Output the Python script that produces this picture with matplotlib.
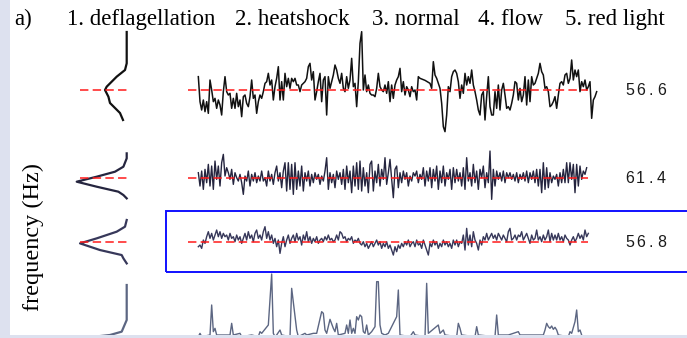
import numpy as np
import matplotlib.pyplot as plt
from matplotlib.patches import Rectangle

# frequency deviation from the row mean, one value per sample
row1 = [40, -35, -60, -30, -65, -35, -70, 30, 0, -35,
        -25, -55, -30, -45, -75, -5, 40, -5, -15, -10,
        -55, -25, -55, -10, -50, -30, -80, -20, -15, -40,
        -50, -20, 30, -25, -15, -70, -35, -15, -25, -5,
        20, 25, 50, 15, 30, -30, 10, 35, 70, -30,
        25, -30, 50, 10, 35, 5, 35, 25, 35, 15,
        15, -5, 15, 20, 25, 35, 70, 80, 30, 55,
        -30, -5, 25, 50, -35, 30, 40, -75, 40, 5,
        25, 45, 75, 60, 35, 20, 50, 5, -5, 40,
        5, 30, 95, 10, 20, -50, 25, 140, 175, 0,
        45, -5, 15, -10, -15, -15, -20, 5, 50, 10,
        0, -5, 15, -10, 25, -35, 15, -25, 15, 30,
        40, 65, -5, 25, -15, 10, 0, -20, 10, -5,
        0, -30, 40, 35, 33, 31, 29, 26, 23, 20,
        5, 85, 45, 35, 20, 5, -40, -110, -125, -75,
        10, -5, 40, 55, 60, 50, 25, -25, 15, -10,
        50, 15, 40, 20, 60, 15, -5, -30, -60, -75,
        -15, -5, -90, -20, 40, -50, -75, -75, -5, -55,
        15, -60, 0, 20, -15, -55, -50, -60, -40, -15,
        25, 20, -30, 5, -35, -15, 40, -45, 30, -35,
        40, 15, 20, 35, 50, 80, 55, 45, 5, 10,
        -5, -50, -45, -35, -20, -55, -15, 20, 25, 15,
        45, 50, 20, 35, 90, 30, 60, 40, 60, -5,
        25, 10, 30, 0, 10, 25, -85, -30, -20, -5]

row2 = [15, -25, 20, -35, 25, -15, 40, -25, 35, -35,
        50, -5, 35, -25, 45, 70, 5, 30, 15, -5,
        25, -20, 15, 0, -10, 10, -15, -50, 5, -10,
        20, -25, 10, -10, 15, -15, 5, -10, 20, -10,
        0, -25, 20, -10, 10, -20, 15, 35, -10, 15,
        -30, 20, 45, -40, 45, -35, 40, -50, 45, -35,
        20, -25, 35, -40, 15, -10, 20, -25, 10, -15,
        15, -5, 10, -20, 5, -10, 20, 60, -35, 15,
        -15, 10, -30, 20, -5, 15, -20, 25, -35, 35,
        -15, 20, -45, 35, -25, 45, -35, 50, -40, 30,
        -25, 15, -45, 40, 50, -40, 20, -15, 40, -25,
        25, -5, 60, -20, 15, 55, -5, -60, 25, 35,
        -30, 15, -15, 20, -5, 15, -25, 5, -10, 15,
        5, 20, -15, 10, -5, 30, -25, 20, -10, 30,
        -30, 25, -10, 35, -35, 20, -15, 35, -25, 15,
        -5, 25, -35, 30, -15, 25, -10, 15, -25, 30,
        -35, 60, -10, 15, -25, 40, -15, 20, -35, 25,
        0, 35, -30, 15, -15, 80, -65, 25, -25, 20,
        -5, 15, -10, 20, -15, 15, 0, 15, -5, 10,
        -10, 15, -15, 10, -5, 15, -10, 20, -15, 15,
        -5, 20, -15, 25, -25, 25, -45, 45, -35, 30,
        -30, 15, -15, 5, -5, 10, -25, 15, -15, 25,
        -15, 45, -15, 45, -5, 40, -45, 40, -25, 35,
        -5, 20, 10, 30]

row3 = [-15, -10, -20, 5, -5, 15, 30, 10, 25, 5,
        20, 35, 15, 30, 10, 25, 15, 20, 5, 25,
        10, 15, 0, 20, 5, 15, -5, 10, 25, 5,
        30, 10, 20, 0, 25, 35, 10, 20, 5, 30,
        45, 10, 30, 5, 20, -5, 10, -15, 5, -35,
        -5, 15, -15, 5, 20, -5, 10, 20, 0, 25,
        5, 15, -10, 20, 5, 30, 0, 15, -5, 10,
        0, 15, -5, 5, 10, 0, 15, 5, 20, 5,
        10, 0, 5, 20, 5, 30, 25, 10, 15, 0,
        10, 5, 15, -5, 5, 0, 10, -5, -10, 0,
        -15, -5, -20, -10, 0, -15, -5, 5, -10, 0,
        -20, -5, -15, 0, -20, -10, -25, -40, -15, -30,
        -10, -20, -5, -15, 0, -10, 5, -15, -5, 0,
        -15, 5, -10, -5, -20, 5, -10, -25, -40, -5,
        -15, 5, -10, 0, -20, -5, -15, 5, -10, 0,
        -15, -5, -20, 5, -10, 5, -15, 0, -5, 20,
        -25, 40, -10, 20, -15, 30, 5, -5, -25, 5,
        -10, 15, 5, 25, 5, 15, 25, 10, 20, 5,
        25, 15, 5, 20, 10, 0, 30, 40, 5, 10,
        20, 5, 20, 15, 30, 5, 15, 25, 10, -5,
        20, 5, 10, 35, 5, 15, 0, 20, 5, 15,
        35, 0, 25, 5, 20, 5, 25, 5, 15, 0,
        20, 10, 5, -10, 5, 15, 0, 10, 25, 10,
        20, 5, 35, 15, 25]

# row 4 is a spiky trace: sample index and value above its baseline
row4_t = [0, 1, 2, 7, 8, 9, 10, 11, 12, 19, 20, 21, 25, 26, 32, 36, 37, 38, 42, 44,
          45, 46, 47, 49, 50, 55, 56, 59, 60, 64, 65, 69, 71, 74, 75, 76, 77, 79, 81, 82,
          83, 84, 88, 89, 90, 91, 92, 93, 94, 95, 96, 97, 98, 99, 100, 101, 102, 104, 106, 107,
          108, 109, 110, 112, 114, 117, 119, 120, 121, 127, 129, 130, 136, 137, 138, 144, 145, 147, 148, 155,
          156, 157, 158, 166, 167, 168, 178, 179, 180, 183, 186, 192, 193, 201, 207, 208, 209, 210, 211, 212,
          213, 214, 215, 216, 222, 223, 224, 226, 227, 228, 229, 230]
row4_v = [0, 10, 0, 5, 95, 15, 25, 5, 5, 5, 40, 5, 10, 0, 5, 0, 15, 10, 35, 188,
          10, 0, 5, 20, 5, 0, 145, 20, 0, 10, 5, 10, 10, 75, 70, 20, 10, 52, 25, 15,
          40, 5, 10, 35, 10, 50, 10, 25, 10, 60, 50, 65, 60, 15, 10, 35, 5, 15, 30, 165,
          165, 35, 10, 5, 10, 40, 60, 140, 5, 0, 15, 5, 0, 160, 10, 35, 10, 20, 5, 0,
          40, 25, 5, 0, 30, 5, 0, 65, 5, 5, 5, 15, 5, 5, 5, 20, 40, 30, 25, 32,
          22, 28, 20, 5, 0, 15, 10, 45, 80, 15, 20, 5]

# marginal distributions (level, count)
hist1_lv = [174, 80, 60, 40, 10, 0, -20, -39, -54, -69, -90]
hist1_ct = [0, 0, 1.7, 10, 20, 21.7, 18.3, 16.7, 11.7, 6.7, 3.7]
hist2_lv = [73, 58, 33, 18, 3, -12, -27, -42, -52, -62]
hist2_ct = [0, 0, 3.3, 11.7, 30, 50, 30, 8.3, 3.3, 0]
hist3_lv = [65, 45, 30, 10, -5, -25, -40, -50, -65]
hist3_ct = [0, 1.7, 10, 30, 46.7, 26.7, 5, 3.3, 0]
hist4_lv = [155, 50, 15, 5, 0]
hist4_ct = [0, 0, 5, 16.7, 32]

conditions = ['1. deflagellation', '2. heatshock', '3. normal', '4. flow', '5. red light']
means = ['56.6', '61.4', '56.8']

W, H = 687, 338
fig = plt.figure(figsize=(W / 100, H / 100), dpi=100)
fig.patch.set_facecolor('#dde1ef')
fig.add_artist(Rectangle((10 / W, 3 / H), 1, 1, transform=fig.transFigure,
                         facecolor='white', edgecolor='none', zorder=0))


def box(x0, y0, x1, y1):
    return [x0 / W, 1 - y1 / H, (x1 - x0) / W, (y1 - y0) / H]


# (series, times, hist levels, hist counts, colour, top px, bottom px, ylim, mean line)
rows = [
    (row1, None, hist1_lv, hist1_ct, '#111111', 25, 155, (-195, 195), True),
    (row2, None, hist2_lv, hist2_ct, '#25253f', 140.2, 215.2, (-112.5, 112.5), True),
    (row3, None, hist3_lv, hist3_ct, '#37385a', 215, 268.4, (-80, 80), True),
    (row4_v, row4_t, hist4_lv, hist4_ct, '#5c6682', 270, 335, (5, 200), False),
]

for k, (vals, t, lv, ct, col, top, bot, ylim, mline) in enumerate(rows):
    if t is None:
        t = np.arange(len(vals))
    ax = fig.add_axes(box(188, top, 600, bot))
    ax.set_axis_off()
    ax.plot(t, vals, color=col, lw=1.0 if k else 1.1)
    if mline:
        ax.hlines(0, -6.2, 233.8, colors='#ff1a1a', linestyles=(0, (5.5, 2.8)), lw=1.1, zorder=3)
    ax.set_xlim(-6.2, 241)
    ax.set_ylim(*ylim)

    hx = fig.add_axes(box(60, top, 130, bot))
    hx.set_axis_off()
    hx.plot(ct, lv, color=col, lw=1.6)
    if mline:
        hx.hlines(0, 46.7, -0.3, colors='#ff1a1a', linestyles=(0, (5.5, 2.8)), lw=1.1, zorder=3)
    hx.set_xlim(66.7, -3.3)
    hx.set_ylim(*ylim)

# row means, monospaced sans digits
for k, m in enumerate(means):
    _, _, _, _, _, top, bot, _, _ = rows[k]
    yc = (top + bot) / 2 + 1
    for j, ch in enumerate(m):
        fig.text((629.5 + 10.7 * j) / W, 1 - yc / H, ch, fontsize=11.5,
                 family='Liberation Sans', va='center', ha='center', color='#1a1a1a')

fig.add_artist(Rectangle((166 / W, 1 - 271.5 / H), 530 / W, 60.5 / H, transform=fig.transFigure,
                         facecolor='none', edgecolor='#1010ff', lw=1.4))

serif = 'Liberation Serif'
fig.text(14 / W, 1 - 25 / H, 'a)', fontsize=16.5, family=serif, va='baseline')
for xp, name in zip([67, 235, 372, 478, 565], conditions):
    fig.text(xp / W, 1 - 25 / H, name, fontsize=16.5, family=serif, va='baseline')
fig.text(33 / W, 1 - 237 / H, 'frequency (Hz)', rotation=90, fontsize=17.5,
         family=serif, ha='center', va='center')

fig.savefig('out.png', dpi=100)
